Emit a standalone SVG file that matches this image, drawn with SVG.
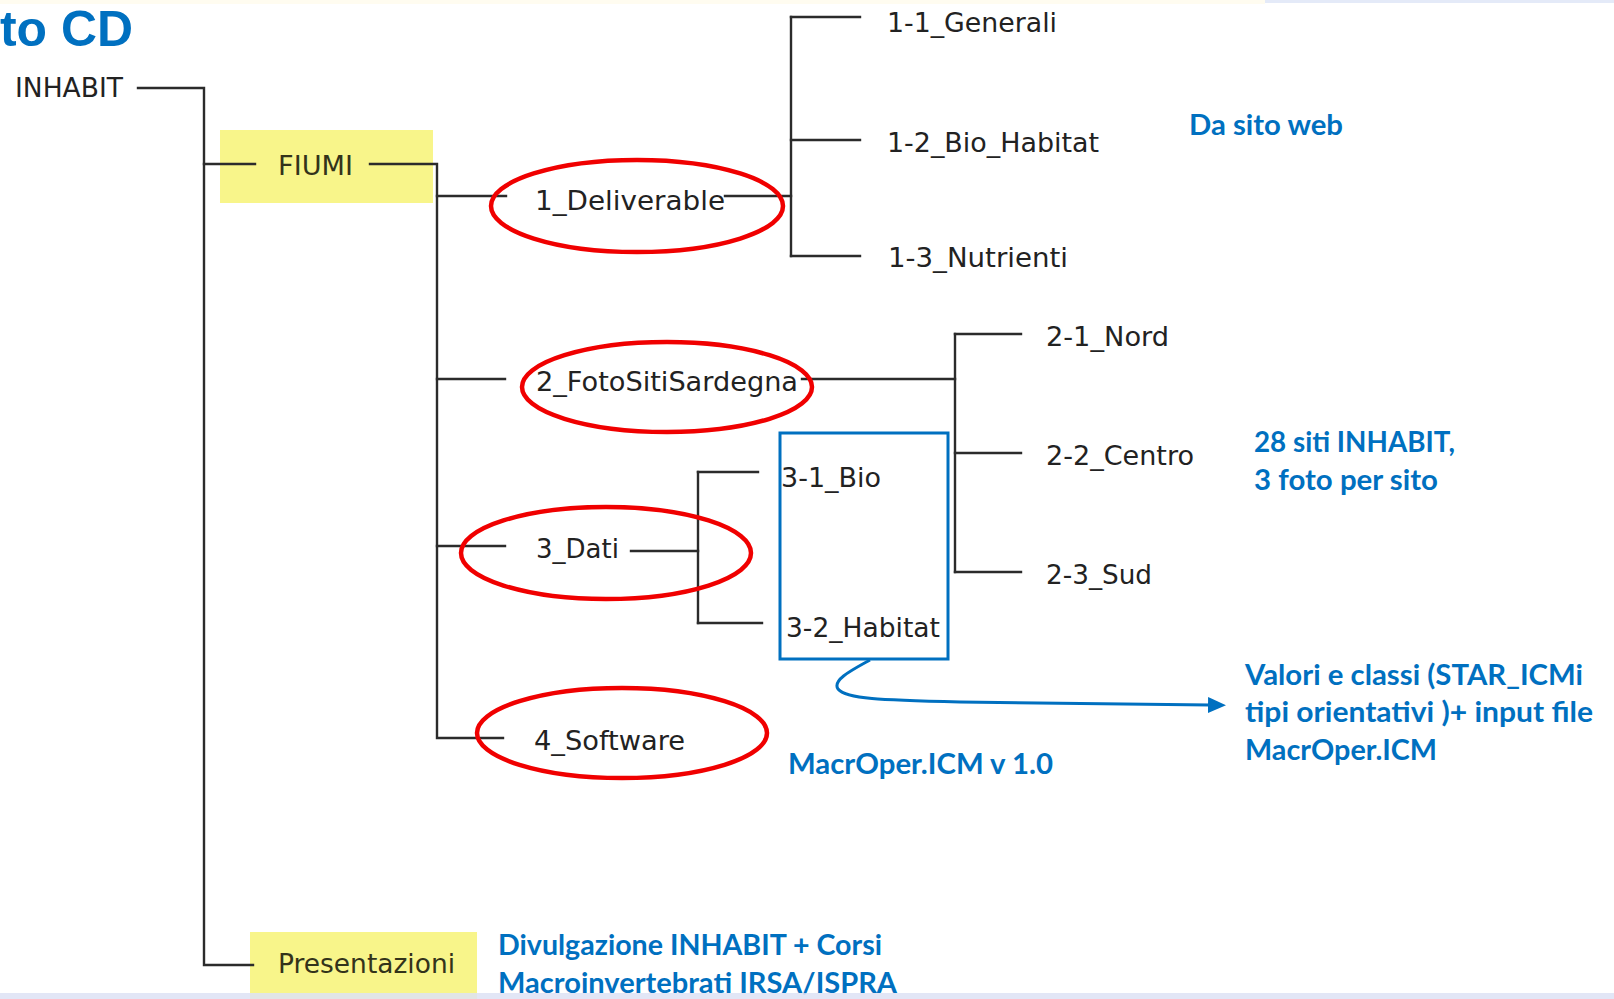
<svg xmlns="http://www.w3.org/2000/svg" width="1614" height="999" viewBox="0 0 1614 999">
  <style>
    .tree { fill: none; stroke: #2b2b2b; stroke-width: 2.4; stroke-linecap: square; }
    .lbl { font-family: "DejaVu Sans", Verdana, sans-serif; font-size: 26px; fill: #222222; }
    .hl-lbl { font-family: "DejaVu Sans", Verdana, sans-serif; font-size: 26px; fill: #33331a; }
    .note { font-family: Lato, "Liberation Sans", sans-serif; font-weight: bold; font-size: 28px; fill: #0070C0; }
    .ring { fill: none; stroke: #f00000; stroke-width: 4.5; }
    .hl { fill: #f8f58a; }
  </style>
  <defs>
    <marker id="ah" markerUnits="userSpaceOnUse" markerWidth="20" markerHeight="18" refX="2" refY="8" orient="auto">
      <path d="M0,0 L18,8 L0,16 z" fill="#0070C0"/>
    </marker>
  </defs>

  <rect width="1614" height="999" fill="#ffffff"/>
  <!-- header strip -->
  <rect x="0" y="0" width="1265" height="4" fill="#fffcf0"/>
  <rect x="1265" y="0" width="349" height="3" fill="#e4eaf8"/>

  <!-- title fragment -->
  <text x="0" y="46" font-family="'Liberation Sans', Arial, sans-serif" font-weight="bold" font-size="50" fill="#0070C0" textLength="133" lengthAdjust="spacingAndGlyphs">to CD</text>

  <!-- highlight boxes behind labels -->
  <rect class="hl" x="220" y="130" width="213" height="73"/>
  <rect class="hl" x="250" y="932" width="227" height="67"/>

  <!-- tree connectors -->
  <g id="connectors">
    <path class="tree" d="M138 88 H204 V965 H253"/>
    <path class="tree" d="M204 164 H255"/>
    <path class="tree" d="M370 164 H437 V738 H503"/>
    <path class="tree" d="M437 196 H506"/>
    <path class="tree" d="M725 196 H791"/>
    <path class="tree" d="M791 17 V256"/>
    <path class="tree" d="M791 17 H860 M791 140 H860 M791 256 H860"/>
    <path class="tree" d="M437 379 H505"/>
    <path class="tree" d="M802 379 H955"/>
    <path class="tree" d="M955 334 V572"/>
    <path class="tree" d="M955 334 H1021 M955 453 H1021 M955 572 H1021"/>
    <path class="tree" d="M437 546 H505"/>
    <path class="tree" d="M631 551 H698"/>
    <path class="tree" d="M698 472 V623"/>
    <path class="tree" d="M698 472 H758 M698 623 H762"/>
    <path d="M870 660 C852 670 832 680 838 689 C846 699 880 700 960 702 L1210 705" fill="none" stroke="#0070C0" stroke-width="3" marker-end="url(#ah)"/>
  </g>

  <!-- folder nodes -->
  <g id="n-inhabit"><text class="lbl" x="15" y="97" textLength="108" lengthAdjust="spacingAndGlyphs">INHABIT</text></g>
  <g id="n-fiumi"><text class="hl-lbl" x="278" y="175" font-size="27" textLength="75" lengthAdjust="spacingAndGlyphs">FIUMI</text></g>

  <g id="n-deliverable">
    <text class="lbl" x="535" y="210" textLength="190" lengthAdjust="spacingAndGlyphs">1_Deliverable</text>
    <ellipse class="ring" cx="637" cy="206" rx="146" ry="46"/>
  </g>
  <g id="n-generali"><text class="lbl" x="887" y="32" textLength="170" lengthAdjust="spacingAndGlyphs">1-1_Generali</text></g>
  <g id="n-biohabitat"><text class="lbl" x="887" y="152" textLength="212" lengthAdjust="spacingAndGlyphs">1-2_Bio_Habitat</text></g>
  <g id="n-nutrienti"><text class="lbl" x="888" y="267" textLength="180" lengthAdjust="spacingAndGlyphs">1-3_Nutrienti</text></g>

  <g id="n-foto">
    <text class="lbl" x="536" y="391" textLength="262" lengthAdjust="spacingAndGlyphs">2_FotoSitiSardegna</text>
    <ellipse class="ring" cx="667" cy="387" rx="145" ry="45"/>
  </g>
  <g id="n-nord"><text class="lbl" x="1046" y="346" textLength="123" lengthAdjust="spacingAndGlyphs">2-1_Nord</text></g>
  <g id="n-centro"><text class="lbl" x="1046" y="465" textLength="148" lengthAdjust="spacingAndGlyphs">2-2_Centro</text></g>
  <g id="n-sud"><text class="lbl" x="1046" y="584" textLength="106" lengthAdjust="spacingAndGlyphs">2-3_Sud</text></g>

  <g id="n-dati">
    <text class="lbl" x="536" y="558" textLength="83" lengthAdjust="spacingAndGlyphs">3_Dati</text>
    <ellipse class="ring" cx="606" cy="553" rx="145" ry="46"/>
  </g>
  <g id="n-dati-box">
    <rect x="780" y="433" width="168" height="226" fill="none" stroke="#0070C0" stroke-width="3"/>
    <text class="lbl" x="781" y="487" textLength="100" lengthAdjust="spacingAndGlyphs">3-1_Bio</text>
    <text class="lbl" x="786" y="637" textLength="154" lengthAdjust="spacingAndGlyphs">3-2_Habitat</text>
  </g>

  <g id="n-software">
    <text class="lbl" x="534" y="750" textLength="151" lengthAdjust="spacingAndGlyphs">4_Software</text>
    <ellipse class="ring" cx="622" cy="733" rx="145" ry="45"/>
  </g>

  <g id="n-presentazioni"><text class="hl-lbl" x="278" y="973" textLength="177" lengthAdjust="spacingAndGlyphs">Presentazioni</text></g>

  <!-- annotations -->
  <g id="notes">
    <text class="note" x="1189" y="135" textLength="154" lengthAdjust="spacingAndGlyphs">Da sito web</text>
    <text class="note" x="1254" y="452" textLength="201" lengthAdjust="spacingAndGlyphs">28 siti INHABIT,</text>
    <text class="note" x="1254" y="490" textLength="184" lengthAdjust="spacingAndGlyphs">3 foto per sito</text>
    <text class="note" x="1245" y="685" textLength="338" lengthAdjust="spacingAndGlyphs">Valori e classi (STAR_ICMi</text>
    <text class="note" x="1245" y="722" textLength="348" lengthAdjust="spacingAndGlyphs">tipi orientativi )+ input file</text>
    <text class="note" x="1245" y="760" textLength="192" lengthAdjust="spacingAndGlyphs">MacrOper.ICM</text>
    <text class="note" x="788" y="774" textLength="265" lengthAdjust="spacingAndGlyphs">MacrOper.ICM v 1.0</text>
    <text class="note" x="498" y="955" textLength="384" lengthAdjust="spacingAndGlyphs">Divulgazione INHABIT + Corsi</text>
    <text class="note" x="498" y="993" textLength="399" lengthAdjust="spacingAndGlyphs">Macroinvertebrati IRSA/ISPRA</text>
  </g>

  <!-- footer strip -->
  <rect x="0" y="993" width="1614" height="6" fill="#dde2f4" opacity="0.85"/>
</svg>
